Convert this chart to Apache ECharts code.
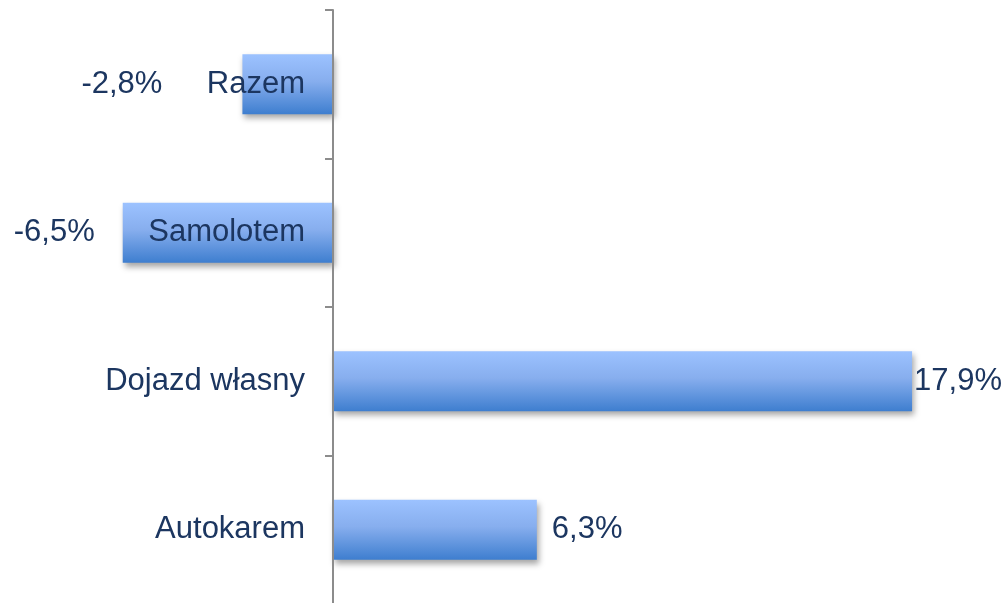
<!DOCTYPE html>
<html>
<head>
<meta charset="utf-8">
<script src="https://cdn.jsdelivr.net/npm/echarts@6/dist/echarts.min.js"></script>
<style>
html,body{margin:0;padding:0;background:#fff;}
#chart{width:1003px;height:603px;}
</style>
</head>
<body>
<div id="chart"></div>
<script>
const categories = ['Razem', 'Samolotem', 'Dojazd własny', 'Autokarem'];
const values = [-2.8, -6.5, 17.9, 6.3];
const valueLabels = ['-2,8%', '-6,5%', '17,9%', '6,3%'];

const labelGap = [80, 28, 2, 15];
const textColor = '#1C3660';
const font = 'Liberation Sans, Arial, sans-serif';
const gridLeft = 9.5;
const axisX = 333;

const chart = echarts.init(document.getElementById('chart'));
const seriesData = values.map((v, i) => ({
  value: v,
  label: {
    show: true,
    position: v < 0 ? 'left' : 'right',
    distance: labelGap[i],
    formatter: valueLabels[i],
    color: textColor,
    fontSize: 31,
    fontFamily: font,
    padding: [4, 0, 0, 0]
  }
}));

chart.setOption({
  animation: false,
  grid: { left: gridLeft, right: 23, top: 10, bottom: -1, containLabel: false, outerBoundsMode: 'none' },
  xAxis: {
    type: 'value', min: -10, max: 20, show: false,
    splitLine: { show: false }
  },
  yAxis: {
    type: 'category',
    data: categories,
    inverse: true,
    position: 'left',
    offset: -(axisX - gridLeft),
    axisLine: { show: true, onZero: false, lineStyle: { color: '#8C8C8C', width: 2 } },
    axisTick: { show: true, length: 8, lineStyle: { color: '#8C8C8C', width: 2 } },
    axisLabel: { color: textColor, fontSize: 31, fontFamily: font, margin: 28, padding: [4, 0, 0, 0] },
    z: 10
  },
  series: [{
    type: 'bar',
    data: seriesData,
    barWidth: 60,
    itemStyle: {
      color: new echarts.graphic.LinearGradient(0, 0, 0, 1, [
        { offset: 0, color: '#9CC2FF' },
        { offset: 0.45, color: '#87AEEE' },
        { offset: 1, color: '#3E7ECF' }
      ]),
      shadowColor: 'rgba(0,0,0,0.35)',
      shadowBlur: 6,
      shadowOffsetX: 2,
      shadowOffsetY: 4
    }
  }]
});
</script>
</body>
</html>
